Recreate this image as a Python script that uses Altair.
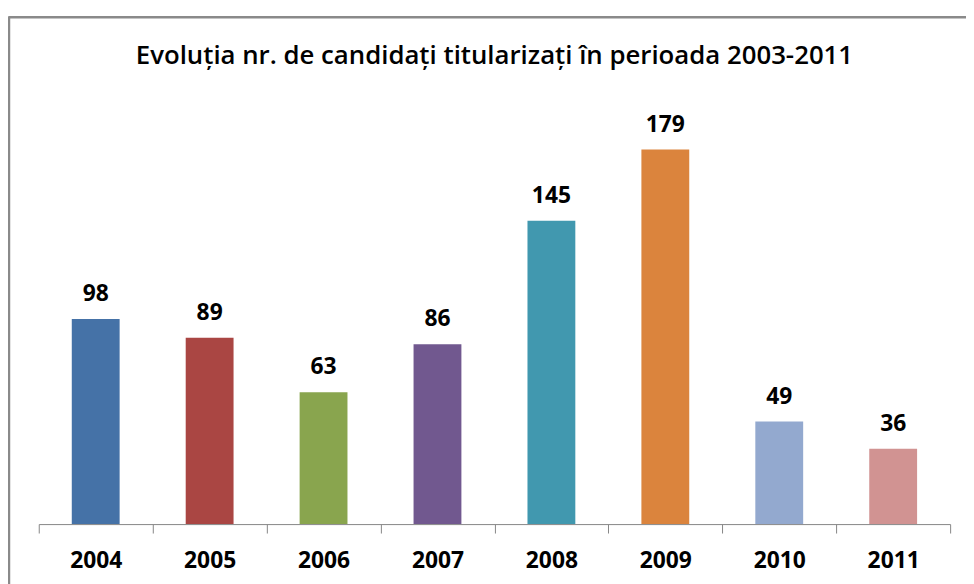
import altair as alt
import pandas as pd

years = ["2004", "2005", "2006", "2007", "2008", "2009", "2010", "2011"]
values = [98, 89, 63, 86, 145, 179, 49, 36]
colors = ["#4572A7", "#AA4643", "#89A54E", "#71588F", "#4198AF", "#DB843D", "#93A9CF", "#D19392"]
title_text = "Evoluția nr. de candidați titularizați în perioada 2003-2011"

df = pd.DataFrame({"an": years, "val": values})

W, H = 919, 422
FONT = "Open Sans"
GRAY = "#868686"

x = alt.X(
    "an:N", sort=years,
    scale=alt.Scale(paddingInner=0, paddingOuter=0),
    axis=alt.Axis(
        title=None, labelAngle=0, tickBand="extent", tickSize=9,
        tickColor=GRAY, domainColor=GRAY, labelFont=FONT, labelFontSize=23,
        labelFontWeight="bold", labelColor="#000", labelBaseline="alphabetic",
        labelPadding=35,
    ),
)
y = alt.Y("val:Q", scale=alt.Scale(domain=[0, 200]), axis=None)

bars = alt.Chart(df).mark_bar(width={"band": 0.42}).encode(
    x=x, y=y,
    color=alt.Color("an:N", scale=alt.Scale(domain=years, range=colors), legend=None),
)
labels = alt.Chart(df).mark_text(
    dy=-18, baseline="alphabetic", fontSize=23, fontWeight="bold", font=FONT, color="#000"
).encode(x=x, y=y, text="val:Q")

frame = pd.DataFrame({"k": [0], "t": [title_text]})
top_border = alt.Chart(frame).mark_rule(color="#8a8a8a", strokeWidth=2.5).encode(
    x=alt.value(-30), x2=alt.value(W + 20), y=alt.value(-89)
)
left_border = alt.Chart(frame).mark_rule(color="#8a8a8a", strokeWidth=2.5).encode(
    x=alt.value(-30), y=alt.value(-90), y2=alt.value(H + 70)
)
title = alt.Chart(frame).mark_text(
    font=FONT, fontSize=26, fontWeight=600, align="center", baseline="alphabetic", color="#000"
).encode(x=alt.value(W / 2), y=alt.value(-42), text="t:N")

chart = alt.layer(top_border, left_border, title, bars, labels).properties(
    width=W, height=H,
    autosize=alt.AutoSizeParams(type="none"),
    padding={"left": 31, "top": 96, "right": 16, "bottom": 58},
).configure_view(stroke=None)

chart.save("out.html", embed_options={"renderer": "svg", "actions": False})
